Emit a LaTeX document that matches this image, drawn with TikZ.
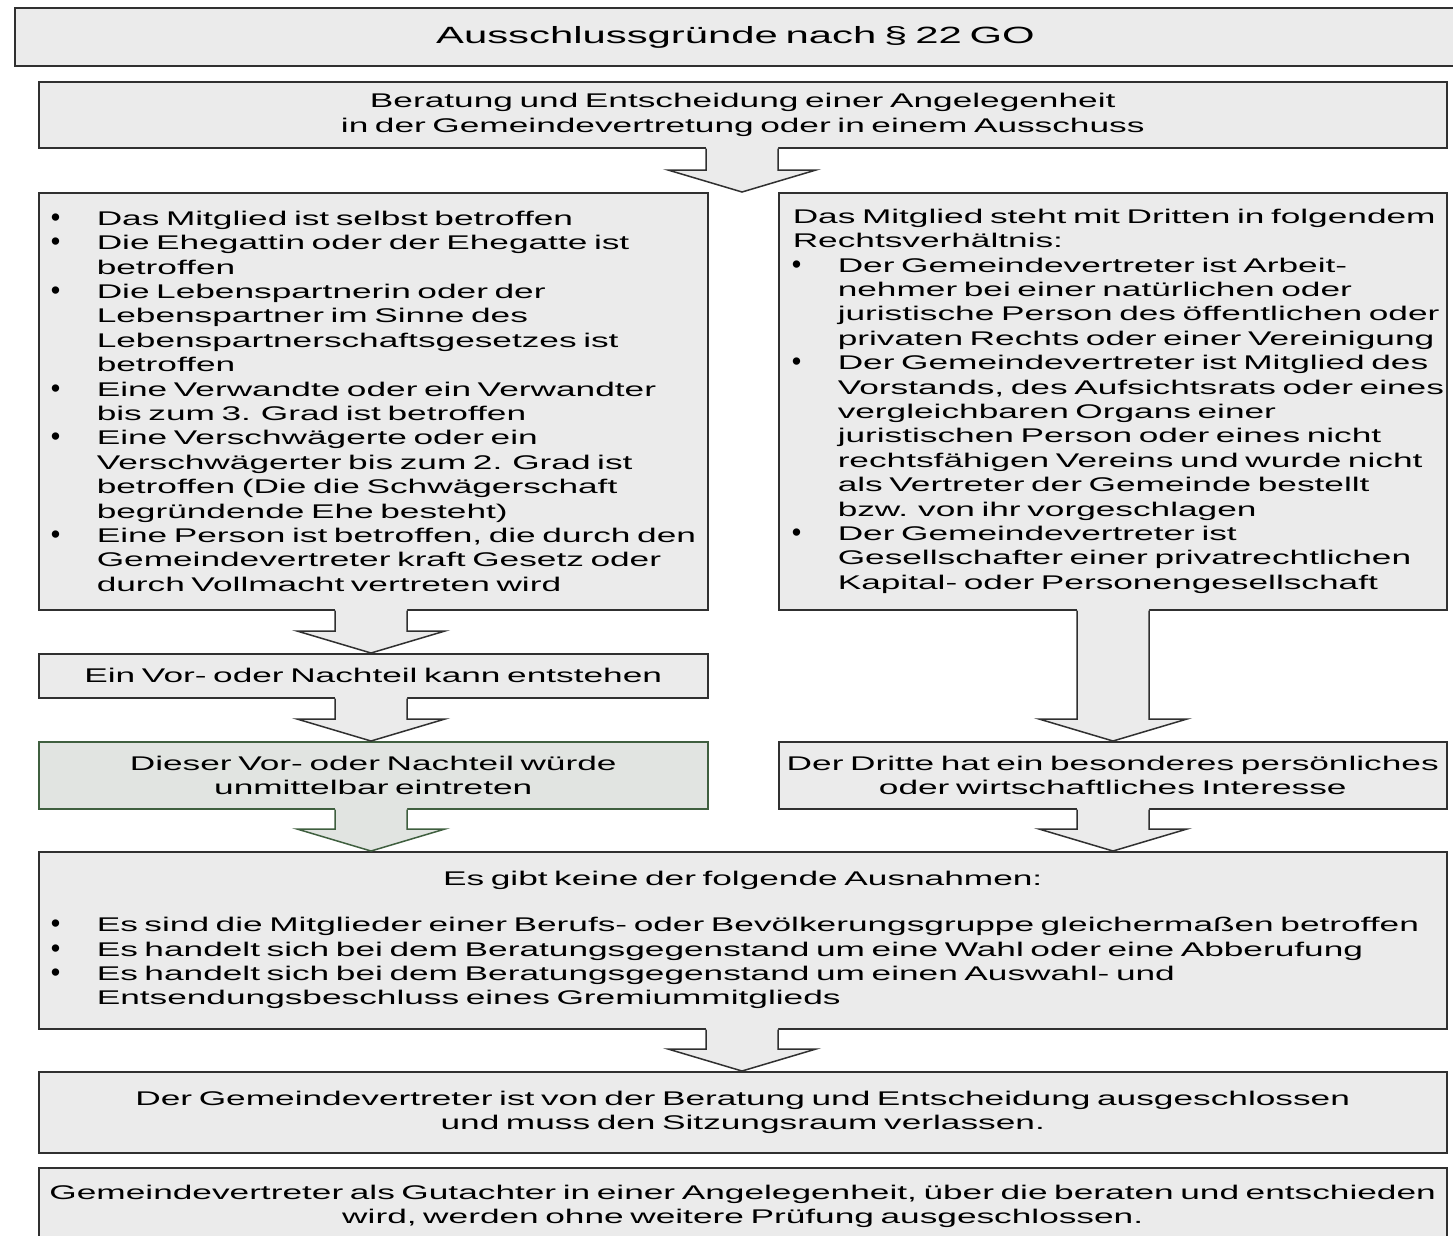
\documentclass[tikz,border=0pt]{standalone}
\usepackage{fontspec}
\setmainfont{Liberation Sans}[FakeStretch=1.78]
\newfontfamily\bulfont{Liberation Sans}
\usetikzlibrary{calc}
\definecolor{boxfill}{HTML}{EBEBEB}
\definecolor{boxline}{HTML}{303030}
\definecolor{grfill}{HTML}{E1E4E1}
\definecolor{grline}{HTML}{3F5F3F}
\newcommand\bodyfont{\fontsize{19.8pt}{24.4pt}\selectfont}
\newcommand\titlefont{\fontsize{23.5pt}{28pt}\selectfont}
\newcommand\bul{\makebox[45pt][l]{\hspace*{-1pt}\bulfont\fontsize{27pt}{24pt}\selectfont\raisebox{-1pt}{•}}}
\newcommand\bl[1]{\mbox{\bul#1}}
\newcommand\cl[1]{\mbox{\hspace*{45pt}#1}}
\newcommand\blockarrow[5]{%
  \fill[fill=#4] let \p1=(#1.south), \p2=(#2.north) in
    ({#3pt-36pt},{\y1+2pt}) -- ({#3pt-36pt},{\y2+22pt}) -- ({#3pt-74pt},{\y2+22pt}) --
    ({#3pt},{\y2}) -- ({#3pt+74pt},{\y2+22pt}) -- ({#3pt+36pt},{\y2+22pt}) --
    ({#3pt+36pt},{\y1+2pt}) -- cycle;
  \draw[draw=#5,line width=1.5pt,line join=miter] let \p1=(#1.south), \p2=(#2.north) in
    ({#3pt-36pt},{\y1}) -- ({#3pt-36pt},{\y2+22pt}) -- ({#3pt-74pt},{\y2+22pt}) --
    ({#3pt},{\y2}) -- ({#3pt+74pt},{\y2+22pt}) -- ({#3pt+36pt},{\y2+22pt}) --
    ({#3pt+36pt},{\y1});
}
\begin{document}
\begin{tikzpicture}[x=1pt,y=-1pt,
  box/.style={draw=boxline, fill=boxfill, line width=1.5pt, rectangle,
    inner ysep=0pt, anchor=north west, font=\bodyfont},
  cbox/.style={box, align=center, inner xsep=2pt},
  lbox/.style={box, align=left, inner xsep=13pt},
  gbox/.style={cbox, draw=grline, fill=grfill}]
\useasboundingbox (0,0) rectangle (1453,1235);
\clip (0,0) rectangle (1453,1235);
\fill[white] (0,0) rectangle (1453,1235);

\node[cbox, line width=2pt, font=\titlefont, text width=1437pt, minimum height=58pt] (title) at (14,7)
  {\mbox{Ausschlussgründe nach § 22 GO}};

\node[cbox, text width=1404pt, minimum height=66pt] (b2) at (38,81)
  {\mbox{Beratung und Entscheidung einer Angelegenheit}\\\mbox{in der Gemeindevertretung oder in einem Ausschuss}};

\coordinate (split) at (742,192);

\node[lbox, text width=643pt, minimum height=417pt] (left) at (38,192) {%
\bl{Das Mitglied ist selbst betroffen}\\
\bl{Die Ehegattin oder der Ehegatte ist}\\
\cl{betroffen}\\
\bl{Die Lebenspartnerin oder der}\\
\cl{Lebenspartner im Sinne des}\\
\cl{Lebenspartnerschaftsgesetzes ist}\\
\cl{betroffen}\\
\bl{Eine Verwandte oder ein Verwandter}\\
\cl{bis zum 3. Grad ist betroffen}\\
\bl{Eine Verschwägerte oder ein}\\
\cl{Verschwägerter bis zum 2. Grad ist}\\
\cl{betroffen (Die die Schwägerschaft}\\
\cl{begründende Ehe besteht)}\\
\bl{Eine Person ist betroffen, die durch den}\\
\cl{Gemeindevertreter kraft Gesetz oder}\\
\cl{durch Vollmacht vertreten wird}};

\node[lbox, inner xsep=14pt, text width=640pt, minimum height=417pt] (right) at (778,192) {%
\mbox{Das Mitglied steht mit Dritten in folgendem}\\
\mbox{Rechtsverhältnis:}\\
\bl{Der Gemeindevertreter ist Arbeit-}\\
\cl{nehmer bei einer natürlichen oder}\\
\cl{juristische Person des öffentlichen oder}\\
\cl{privaten Rechts oder einer Vereinigung}\\
\bl{Der Gemeindevertreter ist Mitglied des}\\
\cl{Vorstands, des Aufsichtsrats oder eines}\\
\cl{vergleichbaren Organs einer}\\
\cl{juristischen Person oder eines nicht}\\
\cl{rechtsfähigen Vereins und wurde nicht}\\
\cl{als Vertreter der Gemeinde bestellt}\\
\cl{bzw. von ihr vorgeschlagen}\\
\bl{Der Gemeindevertreter ist}\\
\cl{Gesellschafter einer privatrechtlichen}\\
\cl{Kapital- oder Personengesellschaft}};

\node[cbox, text width=665pt, minimum height=44pt] (vor) at (38,653)
  {\mbox{Ein Vor- oder Nachteil kann entstehen}};

\node[gbox, text width=665pt, minimum height=67pt] (dieser) at (38,741)
  {\mbox{Dieser Vor- oder Nachteil würde}\\\mbox{unmittelbar eintreten}};

\node[cbox, text width=664pt, minimum height=67pt] (dritte) at (778,741)
  {\mbox{Der Dritte hat ein besonderes persönliches}\\\mbox{oder wirtschaftliches Interesse}};

\node[lbox, text width=1382pt, minimum height=177pt] (exc) at (38,851) {%
\makebox[1382pt][c]{Es gibt keine der folgende Ausnahmen:}\\[21.6pt]
\bl{Es sind die Mitglieder einer Berufs- oder Bevölkerungsgruppe gleichermaßen betroffen}\\
\bl{Es handelt sich bei dem Beratungsgegenstand um eine Wahl oder eine Abberufung}\\
\bl{Es handelt sich bei dem Beratungsgegenstand um einen Auswahl- und}\\
\cl{Entsendungsbeschluss eines Gremiummitglieds}};

\node[cbox, text width=1404pt, minimum height=81pt] (aus) at (38,1071)
  {\mbox{Der Gemeindevertreter ist von der Beratung und Entscheidung ausgeschlossen}\\\mbox{und muss den Sitzungsraum verlassen.}};

\node[cbox, text width=1404pt, minimum height=77pt] (gut) at (38,1167)
  {\mbox{Gemeindevertreter als Gutachter in einer Angelegenheit, über die beraten und entschieden}\\\mbox{wird, werden ohne weitere Prüfung ausgeschlossen.}};

\blockarrow{b2}{split}{742}{boxfill}{boxline}
\blockarrow{left}{vor}{371}{boxfill}{boxline}
\blockarrow{vor}{dieser}{371}{boxfill}{boxline}
\blockarrow{dieser}{exc}{371}{grfill}{grline}
\blockarrow{right}{dritte}{1113}{boxfill}{boxline}
\blockarrow{dritte}{exc}{1113}{boxfill}{boxline}
\blockarrow{exc}{aus}{742}{boxfill}{boxline}
\end{tikzpicture}
\end{document}
